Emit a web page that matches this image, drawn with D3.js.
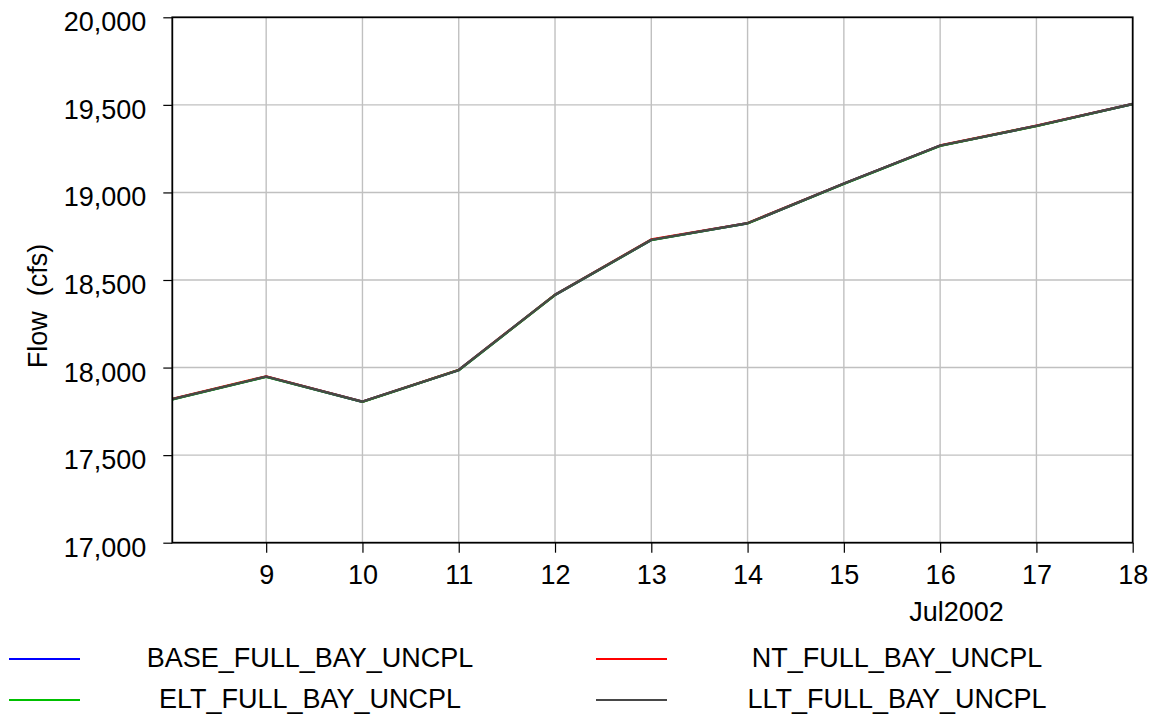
<!DOCTYPE html>
<html>
<head>
<meta charset="utf-8">
<script src="https://cdn.jsdelivr.net/npm/d3@7"></script>
<style>
  html, body { margin: 0; padding: 0; background: #fff; }
  svg { display: block; font-family: "Liberation Sans", Arial, sans-serif; }
</style>
</head>
<body>
<svg id="chart" width="1159" height="719"></svg>
<script>
// ---- data ----
const days = [8, 9, 10, 11, 12, 13, 14, 15, 16, 17, 18];
const baseFlow = [17816, 17948, 17805, 17986, 18415, 18729, 18824, 19050, 19267, 19380, 19505];
const ntFlow   = [17818, 17950, 17806, 17987, 18416, 18731, 18825, 19051, 19268, 19381, 19506];
const eltFlow  = [17815, 17947, 17804, 17985, 18414, 18728, 18823, 19049, 19266, 19379, 19504];
const lltFlow  = [17816, 17948, 17805, 17986, 18415, 18729, 18824, 19050, 19267, 19380, 19505];
const seriesNames = ["BASE_FULL_BAY_UNCPL", "NT_FULL_BAY_UNCPL", "ELT_FULL_BAY_UNCPL", "LLT_FULL_BAY_UNCPL"];
const seriesColors = ["#0000ff", "#ff0000", "#00c000", "#484848"];
const xTickDays = [9, 10, 11, 12, 13, 14, 15, 16, 17, 18];
const yTickValues = [17000, 17500, 18000, 18500, 19000, 19500, 20000];
const monthLabel = "Jul2002";
const yLabel = "Flow  (cfs)";

const seriesValues = [baseFlow, ntFlow, eltFlow, lltFlow];

// ---- layout ----
const svg = d3.select("#chart");
const pL = 172.3, pR = 1132.7, pT = 17.3, pB = 542.7;
const x = d3.scaleLinear().domain([8.025, 18]).range([pL, pR]);
const y = d3.scaleLinear().domain([17000, 20000]).range([pB, pT]);
const FS = 27;

svg.append("defs").append("clipPath").attr("id", "plotclip")
  .append("rect").attr("x", pL).attr("y", pT).attr("width", pR - pL).attr("height", pB - pT);

// gridlines
const grid = svg.append("g");
grid.selectAll("line.gx").data(xTickDays.filter(d => d < 18)).join("line")
  .attr("x1", d => x(d)).attr("x2", d => x(d)).attr("y1", pT).attr("y2", pB)
  .attr("stroke", "#c0c0c0").attr("stroke-width", 1.4);
grid.selectAll("line.gy").data(yTickValues.filter(v => v > 17000 && v < 20000)).join("line")
  .attr("x1", pL).attr("x2", pR).attr("y1", d => y(d)).attr("y2", d => y(d))
  .attr("stroke", "#c0c0c0").attr("stroke-width", 1.4);

// lines
const line = d3.line().x((d, i) => x(days[i])).y(d => y(d));
const lines = svg.append("g").attr("clip-path", "url(#plotclip)");
seriesValues.forEach((vals, k) => {
  lines.append("path").datum(vals).attr("d", line)
    .attr("fill", "none").attr("stroke", seriesColors[k]).attr("stroke-width", 2.4)
    .attr("stroke-linejoin", "round");
});

// frame
svg.append("rect").attr("x", pL).attr("y", pT).attr("width", pR - pL).attr("height", pB - pT)
  .attr("fill", "none").attr("stroke", "#000").attr("stroke-width", 1.8);

// y axis
const yAxis = d3.axisLeft(y).tickValues(yTickValues).tickSize(9).tickPadding(17)
  .tickFormat(d3.format(","));
const gy = svg.append("g").attr("transform", `translate(${pL},0)`).call(yAxis);
gy.select(".domain").remove();
gy.selectAll(".tick line").attr("stroke", "#000").attr("stroke-width", 1.2);
gy.selectAll(".tick text").attr("font-size", FS).attr("fill", "#000")
  .attr("font-family", "Liberation Sans, Arial, sans-serif").attr("dy", "0.5em");

// x axis
const xAxis = d3.axisBottom(x).tickValues(xTickDays).tickSize(10).tickPadding(12)
  .tickFormat(d3.format("d"));
const gx = svg.append("g").attr("transform", `translate(0,${pB})`).call(xAxis);
gx.select(".domain").remove();
gx.selectAll(".tick line").attr("stroke", "#000").attr("stroke-width", 1.2);
gx.selectAll(".tick text").attr("font-size", FS).attr("fill", "#000")
  .attr("font-family", "Liberation Sans, Arial, sans-serif");

svg.append("text").attr("x", x(16.17)).attr("y", 621).attr("text-anchor", "middle")
  .attr("font-size", FS).text(monthLabel);

svg.append("text").attr("transform", "translate(47,306) rotate(-90)")
  .attr("text-anchor", "middle").attr("font-size", FS)
  .attr("xml:space", "preserve").style("white-space", "pre").text(yLabel);

// legend
const legendItems = [
  { name: seriesNames[0], color: seriesColors[0], col: 0, row: 0 },
  { name: seriesNames[1], color: seriesColors[1], col: 1, row: 0 },
  { name: seriesNames[2], color: seriesColors[2], col: 0, row: 1 },
  { name: seriesNames[3], color: seriesColors[3], col: 1, row: 1 }
];
const lg = svg.append("g");
legendItems.forEach(it => {
  const ox = 9 + it.col * 587, oy = 659 + it.row * 41;
  lg.append("line").attr("x1", ox).attr("x2", ox + 71).attr("y1", oy).attr("y2", oy)
    .attr("stroke", it.color).attr("stroke-width", 2);
  lg.append("text").attr("x", ox + 301).attr("y", oy + 8).attr("text-anchor", "middle")
    .attr("font-size", FS).text(it.name);
});
</script>
</body>
</html>
